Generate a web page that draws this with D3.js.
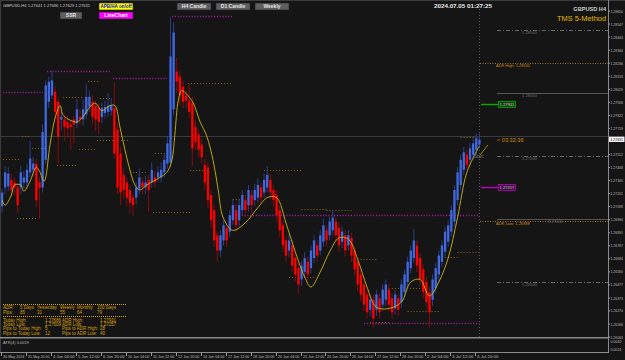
<!DOCTYPE html>
<html><head><meta charset="utf-8">
<script src="https://cdn.jsdelivr.net/npm/d3@7"></script>
<style>body{margin:0;background:#151515;} svg{display:block;font-family:"Liberation Sans",Arial,sans-serif;}</style>
</head><body><svg id="c" width="625" height="360"></svg>
<script>
// ---------- DATA ----------
const openP  = [1.2710,1.2725,1.2726,1.2731,1.2729,1.2725,1.2725,1.2729,1.2729,1.2737,1.2739,1.2744,1.2729,1.2725,1.2747,1.2793,1.2798,1.2801,1.2793,1.2779,1.2779,1.2777,1.2775,1.2779,1.2776,1.2781,1.2779,1.2783,1.2789,1.2793,1.2790,1.2788,1.2781,1.2784,1.2785,1.2786,1.2788,1.2771,1.2752,1.2735,1.2729,1.2723,1.2717,1.2717,1.2724,1.2729,1.2725,1.2731,1.2729,1.2733,1.2733,1.2733,1.2737,1.2744,1.2745,1.2787,1.2817,1.2813,1.2805,1.2798,1.2794,1.2792,1.2773,1.2767,1.2759,1.2743,1.2741,1.2719,
1.2707,1.2687,1.2675,1.2683,1.2693,1.2690,1.2699,1.2707,1.2699,1.2707,1.2715,1.2711,1.2719,1.2715,1.2717,1.2725,1.2721,1.2725,1.2731,1.2723,1.2719,1.2707,1.2695,1.2683,1.2675,1.2679,1.2669,1.2661,1.2652,1.2658,1.2666,1.2661,1.2669,1.2679,1.2675,1.2682,1.2691,1.2687,1.2691,1.2698,1.2693,1.2682,1.2687,1.2679,1.2685,1.2675,1.2666,1.2656,1.2648,1.2640,1.2628,1.2636,1.2628,1.2637,1.2632,1.2636,1.2644,1.2637,1.2629,1.2637,1.2634,1.2642,1.2650,1.2661,1.2669,1.2679,1.2669,1.2660,1.2650,1.2642,1.2636,1.2645,1.2656,1.2666,1.2674,1.2682,1.2690,1.2698,1.2715,1.2727,1.2739,1.2751,1.2747,1.2751,1.2755,1.2759];
const highP  = [1.2724,1.2742,1.2741,1.2736,1.2733,1.2728,1.2742,1.2738,1.2744,1.2762,1.2749,1.2748,1.2733,1.2775,1.2810,1.2813,1.2818,1.2806,1.2797,1.2787,1.2783,1.2782,1.2779,1.2782,1.2795,1.2787,1.2795,1.2807,1.2802,1.2798,1.2794,1.2792,1.2792,1.2794,1.2800,1.2796,1.2808,1.2776,1.2757,1.2740,1.2733,1.2727,1.2720,1.2729,1.2740,1.2733,1.2734,1.2735,1.2745,1.2738,1.2742,1.2745,1.2752,1.2766,1.2860,1.2856,1.2828,1.2818,1.2810,1.2802,1.2808,1.2797,1.2778,1.2771,1.2764,1.2748,1.2745,1.2723,
1.2711,1.2690,1.2691,1.2699,1.2697,1.2707,1.2716,1.2712,1.2715,1.2723,1.2719,1.2727,1.2723,1.2728,1.2732,1.2729,1.2736,1.2742,1.2736,1.2727,1.2723,1.2711,1.2699,1.2687,1.2688,1.2684,1.2673,1.2665,1.2667,1.2674,1.2670,1.2679,1.2687,1.2683,1.2691,1.2700,1.2695,1.2702,1.2707,1.2702,1.2697,1.2694,1.2691,1.2691,1.2689,1.2679,1.2670,1.2660,1.2652,1.2644,1.2640,1.2640,1.2644,1.2641,1.2648,1.2652,1.2648,1.2641,1.2644,1.2641,1.2652,1.2660,1.2670,1.2679,1.2692,1.2683,1.2673,1.2664,1.2654,1.2646,1.2656,1.2665,1.2675,1.2683,1.2694,1.2699,1.2711,1.2727,1.2741,1.2751,1.2757,1.2755,1.2760,1.2764,1.2768,1.2769];
const lowP   = [1.2705,1.2720,1.2722,1.2718,1.2719,1.2705,1.2720,1.2724,1.2725,1.2733,1.2735,1.2710,1.2700,1.2721,1.2744,1.2788,1.2795,1.2780,1.2744,1.2770,1.2762,1.2766,1.2755,1.2760,1.2772,1.2774,1.2774,1.2779,1.2785,1.2775,1.2770,1.2767,1.2776,1.2780,1.2781,1.2782,1.2748,1.2720,1.2711,1.2716,1.2710,1.2705,1.2702,1.2712,1.2720,1.2720,1.2720,1.2706,1.2725,1.2725,1.2729,1.2729,1.2733,1.2740,1.2741,1.2782,1.2800,1.2790,1.2788,1.2788,1.2780,1.2742,1.2755,1.2749,1.2744,1.2723,1.2709,1.2693,
1.2678,1.2666,1.2670,1.2679,1.2678,1.2686,1.2695,1.2690,1.2694,1.2703,1.2701,1.2706,1.2705,1.2710,1.2713,1.2712,1.2717,1.2721,1.2716,1.2710,1.2698,1.2686,1.2674,1.2666,1.2670,1.2658,1.2651,1.2640,1.2647,1.2654,1.2651,1.2657,1.2665,1.2666,1.2671,1.2678,1.2678,1.2683,1.2687,1.2682,1.2674,1.2677,1.2670,1.2675,1.2666,1.2655,1.2643,1.2635,1.2627,1.2621,1.2623,1.2614,1.2623,1.2621,1.2627,1.2631,1.2627,1.2621,1.2624,1.2623,1.2629,1.2638,1.2646,1.2657,1.2665,1.2658,1.2647,1.2637,1.2629,1.2614,1.2631,1.2641,1.2651,1.2662,1.2670,1.2678,1.2686,1.2694,1.2711,1.2723,1.2735,1.2739,1.2743,1.2747,1.2751,1.2756];
const closeP = [1.2721,1.2737,1.2736,1.2723,1.2725,1.2711,1.2737,1.2733,1.2739,1.2748,1.2744,1.2715,1.2725,1.2769,1.2806,1.2809,1.2810,1.2785,1.2765,1.2781,1.2773,1.2772,1.2773,1.2775,1.2787,1.2779,1.2787,1.2797,1.2797,1.2781,1.2779,1.2777,1.2788,1.2789,1.2790,1.2790,1.2752,1.2725,1.2721,1.2723,1.2717,1.2713,1.2711,1.2725,1.2733,1.2725,1.2729,1.2723,1.2739,1.2729,1.2737,1.2739,1.2747,1.2760,1.2829,1.2848,1.2809,1.2798,1.2793,1.2794,1.2785,1.2756,1.2761,1.2755,1.2749,1.2729,1.2715,1.2699,
1.2683,1.2675,1.2687,1.2695,1.2683,1.2703,1.2711,1.2695,1.2711,1.2719,1.2707,1.2723,1.2711,1.2723,1.2727,1.2717,1.2731,1.2735,1.2721,1.2715,1.2703,1.2691,1.2679,1.2671,1.2683,1.2663,1.2656,1.2648,1.2663,1.2669,1.2656,1.2675,1.2683,1.2671,1.2687,1.2695,1.2683,1.2698,1.2701,1.2687,1.2679,1.2690,1.2675,1.2687,1.2671,1.2660,1.2648,1.2640,1.2632,1.2626,1.2636,1.2621,1.2640,1.2626,1.2644,1.2648,1.2632,1.2626,1.2640,1.2628,1.2648,1.2656,1.2666,1.2675,1.2683,1.2663,1.2652,1.2642,1.2634,1.2626,1.2652,1.2661,1.2671,1.2679,1.2690,1.2695,1.2707,1.2723,1.2737,1.2747,1.2753,1.2743,1.2756,1.2760,1.2764,1.2763];

// moving average (yellow line) read at sample bars
const maBar = [0,1,3,4,6,7,9,11,12,13.5,15.4,17,18.6,19.7,24,25.5,29.8,32,34.6,36.2,37.8,39.4,41,42.6,44.2,46.4,50.6,52.8,54.4,55.4,56.5,57.6,59.2,61.3,63.5,65.6,67.7,69.3,70.9,74,78,82,85,88,91,94,97,99,102,105,108,111,114,117,120,124,128,131,134,137,140,143,146,149,153];
const maVal = [1.2715,1.2711,1.2719,1.2727,1.2727,1.2722,1.2730,1.2741,1.2738,1.2730,1.2759,1.2780,1.2790,1.2782,1.2777,1.2780,1.2792,1.2786,1.2790,1.2790,1.2773,1.2755,1.2739,1.2727,1.2723,1.2727,1.2733,1.2737,1.2746,1.2767,1.2794,1.2802,1.2799,1.2792,1.2777,1.2766,1.2746,1.2723,1.2701,1.2691,1.2697,1.2709,1.2717,1.2717,1.2697,1.2674,1.2654,1.2646,1.2658,1.2674,1.2685,1.2684,1.2668,1.2646,1.2630,1.2629,1.2634,1.2650,1.2652,1.2639,1.2650,1.2669,1.2701,1.2737,1.2758];

// time axis
const timeBars   = [0,8,16,24,32,40,48,56,64,72,80,88,96,104,112,120,128,136,144,152];
const timeLabels = ["30 May 2024","31 May 20:00","4 Jun 04:00","5 Jun 12:00","6 Jun 20:00","10 Jun 04:00","11 Jun 12:00","12 Jun 20:00","14 Jun 04:00","17 Jun 12:00","18 Jun 20:00","20 Jun 04:00","21 Jun 12:00","24 Jun 20:00","26 Jun 04:00","27 Jun 12:00","28 Jun 20:00","2 Jul 04:00","3 Jul 12:00","4 Jul 20:00"];

// price axis ticks
const priceTicks = [1.28650,1.28547,1.28443,1.28340,1.28236,1.28133,1.28029,1.27926,1.27822,1.27719,1.27615,1.27512,1.27408,1.27305,1.27201,1.27098,1.26994,1.26891,1.26787,1.26684,1.26580,1.26477,1.26373,1.26270,1.26166,1.26063];

// daily high/low segments (orange dotted): start bar, end bar, price
const dayLvlStart = [27.6,19.6,31.4,6.4,9.6,30.4,24.7,0.3,17.6,42,49,59.6,60.3,48.4,4.8,74,84,96,92,104,112,118,124,130,140,146,147];
const dayLvlEnd   = [31.4,26,34.6,9,13.8,41,29.8,5.8,24,46.8,53.8,74,65,60.3,11.2,77.9,96,104,100,112,120,124,136,140,146,153,153];
const dayLvlPrice = [1.28095,1.27968,1.27960,1.27659,1.27563,1.27627,1.27556,1.27476,1.27429,1.27373,1.27524,1.28079,1.27389,1.27056,1.27008,1.27159,1.27390,1.27080,1.26540,1.27070,1.26680,1.26180,1.26450,1.26270,1.26700,1.26740,1.27650];
// weekly high/low segments (purple dotted)
const wkLvlStart = [0.3,14.4,35.6,54.5,116,75];
const wkLvlEnd   = [13.1,35,52.9,73.7,153,153];
const wkLvlPrice = [1.28008,1.28175,1.28119,1.28611,1.26175,1.27032];

// round-number levels
const roundLvl = [1.28500,1.28000,1.27500,1.27000,1.26500];
const roundSolid = [false,true,false,true,false];

const table1Head = ["ADR:","5 Days","Yesterday","Weekly","Monthly","100 Days"];
const table1Vals = ["Pips:","85","31","55","64","79"];
const table2 = [["Today High:","1.27686","ADR High:","1.27911"],["Today Low:","1.27509","ADR Low:","1.27257"],["Pips to Today High:","5","Pips to ADR High:","28"],["Pips to Today Low:","12","Pips to ADR Low:","40"]];

const bidPrice = 1.27631, adrHigh = 1.28240, adrLow = 1.26988, adrHiMark = 1.27911, adrLoMark = 1.27257;

// ---------- DRAW ----------
const svg = d3.select("#c");
const PR = 608, PB = 337;
const y = d3.scaleLinear().domain([1.26, 1.287]).range([345, 4.8]);
const x = d3.scaleLinear().domain([0, 153]).range([2, 2 + 153*3.12]);
const n = closeP.length;

// text helper: shrinks font so natural width fits target width
function txt(parent, tx, ty, s, o){
  o = o || {};
  let size = o.size || 4.5;
  const t = parent.append("text").attr("x",tx).attr("y",ty).attr("fill",o.fill||"#bbb")
    .attr("font-size",size).text(s);
  if (o.anchor) t.attr("text-anchor",o.anchor);
  if (o.weight) t.attr("font-weight",o.weight);
  const w = o.w || (o.pc ? o.pc*s.length : null);
  if (w) {
    const len = t.node().getComputedTextLength();
    if (len > w) { size = size * w / len; t.attr("font-size", size); }
  }
  return t;
}

svg.append("rect").attr("width",625).attr("height",360).attr("fill","#151515");

svg.append("defs").append("clipPath").attr("id","pc").append("rect").attr("x",1).attr("y",1).attr("width",PR-1).attr("height",PB-1);
const g = svg.append("g").attr("clip-path","url(#pc)");

// bid line across chart
const bidY = Math.round(y(bidPrice))-2.5;
g.append("line").attr("x1",0).attr("x2",PR).attr("y1",bidY).attr("y2",bidY).attr("stroke","#3a3a3a").attr("stroke-width",1);

// vertical dotted line (current time)
g.append("line").attr("x1",479.5).attr("x2",479.5).attr("y1",0).attr("y2",PB).attr("stroke","#555").attr("stroke-dasharray","1,2");

// day levels
dayLvlPrice.forEach((p,i)=>{
  const yy = Math.round(y(p))+0.5;
  g.append("line").attr("x1",x(dayLvlStart[i])).attr("x2",x(dayLvlEnd[i])).attr("y1",yy).attr("y2",yy)
   .attr("stroke","#8a6a12").attr("stroke-width",1).attr("stroke-dasharray","1,2");
});
// weekly levels
wkLvlPrice.forEach((p,i)=>{
  const yy = Math.round(y(p))+0.5;
  g.append("line").attr("x1",x(wkLvlStart[i])).attr("x2",x(wkLvlEnd[i])).attr("y1",yy).attr("y2",yy)
   .attr("stroke","#9a1a9a").attr("stroke-width",1.4).attr("stroke-dasharray","1.2,1.6");
});

// round levels on right
roundLvl.forEach((p,i)=>{
  const yy = Math.round(y(p))+0.5;
  g.append("line").attr("x1",497).attr("x2",PR).attr("y1",yy).attr("y2",yy)
   .attr("stroke", roundSolid[i] ? "#555" : "#666").attr("stroke-width",1)
   .attr("stroke-dasharray", roundSolid[i] ? null : "4,2,1,2");
  const lx = (i === 3) ? 548 : 522;
  txt(svg,lx,yy+3.6,p.toFixed(5),{fill:"#6e6e6e",size:4.5,w:15});
});

// ADR high/low lines
[[adrHigh,"ADR High: "],[adrLow,"ADR Low: "]].forEach(([p,t])=>{
  const yy = Math.round(y(p))+0.5;
  g.append("line").attr("x1",480).attr("x2",PR).attr("y1",yy).attr("y2",yy).attr("stroke","#a0701a").attr("stroke-dasharray","1,1.5");
  txt(svg,496,yy+3.6,t+p.toFixed(5),{fill:"#d08a10",size:4.5,w:34});
});

// candles
const up = i => closeP[i] >= openP[i];
const idx = d3.range(n);
g.selectAll("line.w").data(idx).join("line").attr("class","w")
  .attr("x1",i=>x(i)).attr("x2",i=>x(i)).attr("y1",i=>y(highP[i])).attr("y2",i=>y(lowP[i]))
  .attr("stroke",i=>up(i)?"#2a3f8a":"#8a0a0a").attr("stroke-width",1);
g.selectAll("rect.b").data(idx).join("rect").attr("class","b")
  .attr("x",i=>x(i)-1.1).attr("width",2.3)
  .attr("y",i=>y(Math.max(openP[i],closeP[i])))
  .attr("height",i=>Math.max(1,Math.abs(y(openP[i])-y(closeP[i]))))
  .attr("fill",i=>up(i)?"#4169e1":"#ff0000");

// MA line
const maLine = d3.line().x(d=>x(d[0])).y(d=>y(d[1])).curve(d3.curveCatmullRom);
g.append("path").datum(maBar.map((b,i)=>[b,maVal[i]])).attr("d",maLine).attr("fill","none").attr("stroke","#c8b418").attr("stroke-width",0.9);

// Start marker
g.append("line").attr("x1",480).attr("y1",155).attr("x2",488).attr("y2",145).attr("stroke","#b0a020").attr("stroke-width",0.8);
txt(svg,474,157.5,"Start",{fill:"#777",size:4.5,w:11});

// ADR markers (green & magenta)
[[adrHiMark,"#00b000","#0a3a0a"],[adrLoMark,"#c000c0","#3a0a3a"]].forEach(([p,c,bg])=>{
  const yy = Math.round(y(p))+0.5;
  svg.append("line").attr("x1",481).attr("x2",498).attr("y1",yy).attr("y2",yy).attr("stroke",c).attr("stroke-width",1.4);
  svg.append("rect").attr("x",498.5).attr("y",yy-3).attr("width",17).attr("height",6).attr("fill",bg).attr("stroke",c).attr("stroke-width",0.8);
  txt(svg,499.5,yy+1.7,p.toFixed(5),{fill:"#ddd",size:4.5,w:15});
});

// countdown
txt(svg,497,142,"< 03:32:36",{fill:"#d08a10",size:5.6,w:28});

// frame lines
svg.append("line").attr("x1",0).attr("x2",625).attr("y1",0.5).attr("y2",0.5).attr("stroke","#3c3c3c");
svg.append("line").attr("x1",0.5).attr("x2",0.5).attr("y1",0).attr("y2",353).attr("stroke","#3c3c3c");
svg.append("line").attr("x1",PR+0.5).attr("x2",PR+0.5).attr("y1",0).attr("y2",353).attr("stroke","#8a8a8a");
svg.append("rect").attr("x",0).attr("y",337).attr("width",PR+1).attr("height",1.5).attr("fill","#8a8a8a");
svg.append("rect").attr("x",0).attr("y",352).attr("width",PR+1).attr("height",1).attr("fill","#8a8a8a");

// price axis
priceTicks.forEach(p=>{
  const yy = y(p);
  svg.append("line").attr("x1",PR).attr("x2",PR+2).attr("y1",yy).attr("y2",yy).attr("stroke","#999");
  if (Math.abs(yy - y(bidPrice)) > 4.5)
    txt(svg,PR+2.5,yy+1.5,p.toFixed(5),{fill:"#bbb",size:4.5,w:12.5});
});
// current price label
svg.append("rect").attr("x",PR+1).attr("y",y(bidPrice)-2.9).attr("width",15.5).attr("height",5.4).attr("fill","#f0f0f0");
txt(svg,PR+2.5,y(bidPrice)+1.5,bidPrice.toFixed(5),{fill:"#111",size:4.5,w:12.5});

// ATR panel
txt(svg,3,343.5,"ATR(4) 0.0019",{fill:"#bbb",size:4.5,w:26});
txt(svg,PR+2.5,342.5,"0.0042",{fill:"#bbb",size:4.5,w:11});
txt(svg,PR+2.5,351,"0.0011",{fill:"#bbb",size:4.5,w:11});

// time axis
timeBars.forEach((b,i)=>{
  const xx = Math.round(x(b)) - 0.5;
  svg.append("line").attr("x1",xx).attr("x2",xx).attr("y1",353).attr("y2",356).attr("stroke","#999");
  txt(svg,xx+1.5,357.8,timeLabels[i],{fill:"#bbb",size:4.5,w:21.5});
});

// header
txt(svg,3,7,"GBPUSD,H4  1.27641 1.27686 1.27629 1.27631",{fill:"#ccc",size:4.6,w:87});
txt(svg,434,8,"2024.07.05 01:27:25",{fill:"#e8e8e8",size:6.4,weight:"bold",w:58});
txt(svg,606,10.5,"GBPUSD H4",{fill:"#ccc",size:5.6,weight:"bold",anchor:"end",w:33});
txt(svg,606,21,"TMS 5-Method",{fill:"#e8b800",size:7.8,anchor:"end",w:49});

// buttons
const btn = (bx,by,w,h,fill,col,t)=>{
  svg.append("rect").attr("x",bx).attr("y",by).attr("width",w).attr("height",h).attr("fill",fill).attr("stroke","#222").attr("stroke-width",0.6);
  txt(svg,bx+w/2,by+h/2+1.8,t,{fill:col,size:5,weight:"bold",anchor:"middle",w:w-3});
};
btn(60,12,22,7,"#5f5f5f","#e0e0e0","SSR");
btn(99,3,34,7,"#ffff00","#1010c0","APB/HA on/off");
btn(99,12,34,7,"#ff00ff","#ffffff","LineChart");
btn(177,3,34,7,"#5f5f5f","#e0e0e0","H4 Candle");
btn(216,3,34,7,"#5f5f5f","#e0e0e0","D1 Candle");
btn(255,3,34,7,"#5f5f5f","#e0e0e0","Weekly");

// ADR table
const tc = "#d8a010";
svg.append("line").attr("x1",3).attr("x2",127).attr("y1",304.5).attr("y2",304.5).attr("stroke",tc).attr("stroke-dasharray","1,1");
svg.append("line").attr("x1",3).attr("x2",127).attr("y1",316.5).attr("y2",316.5).attr("stroke",tc).attr("stroke-dasharray","1,1");
const colX = [3,20,37,60,77,97];
const colW = [15,15,21,15,18,22];
table1Head.forEach((t,i)=> txt(svg,colX[i],309,t,{fill:tc,size:4.5,w:colW[i]}));
table1Vals.forEach((t,i)=> txt(svg,colX[i],313.5,t,{fill:tc,size:4.5,w:colW[i]}));
const col2X = [3,45,62,100];
const col2W = [40,16,36,16];
table2.forEach((row,r)=> row.forEach((t,i)=> txt(svg,col2X[i],321.5+r*4.4,t,{fill:tc,size:4.5,w:col2W[i]})));
</script></body></html>
